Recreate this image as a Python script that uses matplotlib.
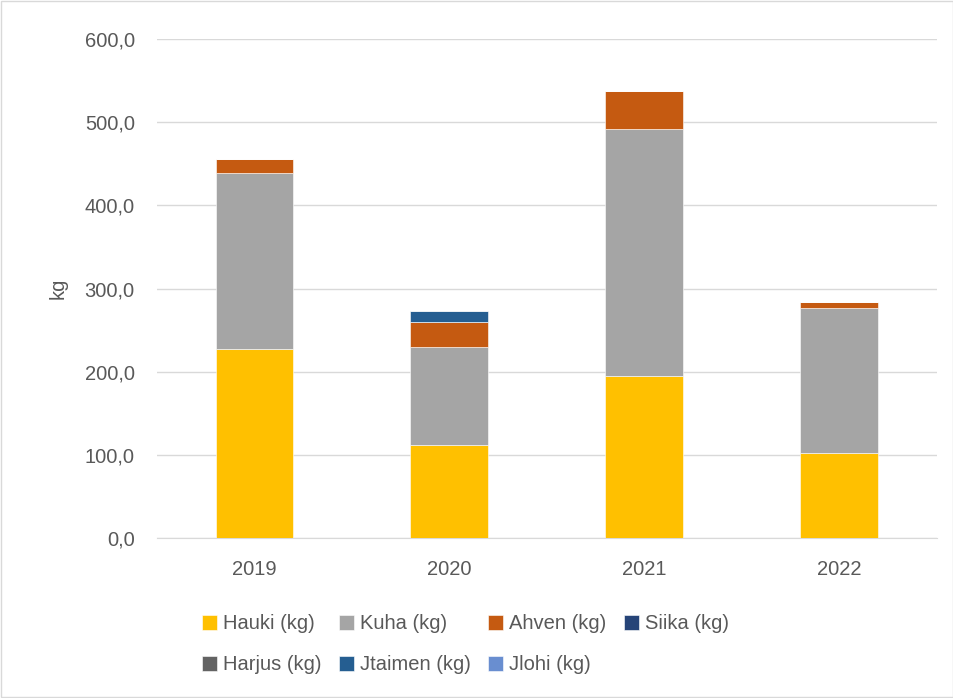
import numpy as np
import matplotlib.pyplot as plt
from matplotlib.patches import Rectangle

years = ['2019', '2020', '2021', '2022']
hauki = [227.0, 111.5, 195.0, 102.0]
kuha = [211.5, 118.0, 296.5, 175.0]
ahven = [17.0, 30.5, 45.5, 7.0]
siika = [0.0, 0.0, 0.0, 0.0]
harjus = [0.0, 0.0, 0.0, 0.0]
jtaimen = [0.0, 13.0, 0.0, 0.0]
jlohi = [0.0, 0.0, 0.0, 0.0]

labels = ['Hauki (kg)', 'Kuha (kg)', 'Ahven (kg)', 'Siika (kg)',
          'Harjus (kg)', 'Jtaimen (kg)', 'Jlohi (kg)']
colors = ['#FFC000', '#A5A5A5', '#C55A11', '#264478',
          '#636363', '#255E91', '#698ED0']
series = [hauki, kuha, ahven, siika, harjus, jtaimen, jlohi]

plt.rcParams['font.family'] = ['Liberation Sans', 'DejaVu Sans']
txt = '#595959'
fs = 14.5

fig = plt.figure(figsize=(9.54, 6.98), dpi=100)
ax = fig.add_axes([0.1646, 0.229, 0.8174, 0.715])

x = np.arange(len(years))
bottom = np.zeros(len(years))
handles = []
for vals, lab, col in zip(series, labels, colors):
    b = ax.bar(x, vals, width=0.4, bottom=bottom, color=col, label=lab,
               edgecolor='white', linewidth=0.4, zorder=3)
    handles.append(b)
    bottom += np.array(vals)

ax.set_xlim(-0.5, len(years) - 0.5)
ax.set_ylim(0, 600)
ax.set_yticks(np.arange(0, 601, 100))
ax.set_yticklabels(['%d,0' % v for v in range(0, 601, 100)])
ax.set_xticks(x)
ax.set_xticklabels(years)
ax.tick_params(axis='both', length=0, labelsize=fs, colors=txt)
ax.tick_params(axis='x', pad=16)
ax.tick_params(axis='y', pad=16)
ax.grid(axis='y', color='#D9D9D9', linewidth=1, zorder=0)
for s in ['top', 'right', 'left']:
    ax.spines[s].set_visible(False)
ax.spines['bottom'].set_color('#D9D9D9')
ax.set_ylabel('kg', fontsize=fs, color=txt, labelpad=12)

# legend filled column-wise, so reorder for row-wise look
order = [0, 4, 1, 5, 2, 6, 3]
fig.legend([handles[i] for i in order], [labels[i] for i in order],
           ncol=4, loc='upper left', bbox_to_anchor=(0.193, 0.146),
           frameon=False, fontsize=fs, labelcolor=txt,
           handlelength=0.75, handleheight=0.75, handletextpad=0.3,
           columnspacing=0.85, labelspacing=1.1)

fig.patches.append(Rectangle((0.001, 0.001), 0.998, 0.998, transform=fig.transFigure,
                             fill=False, edgecolor='#D9D9D9', linewidth=1))

plt.savefig('out.png', dpi=100)
